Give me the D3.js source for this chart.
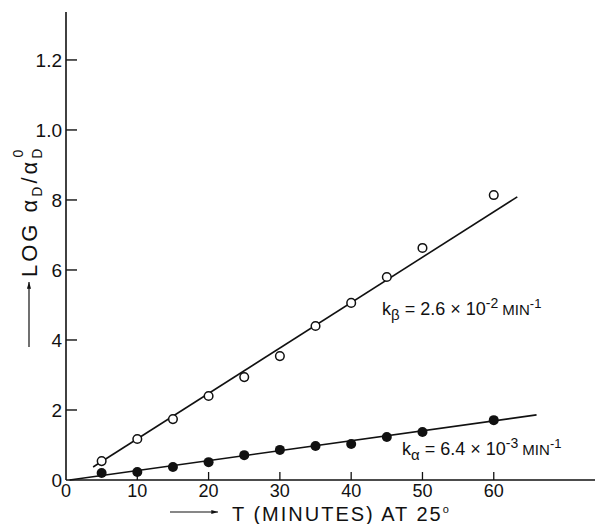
<!DOCTYPE html>
<html>
<head>
<meta charset="utf-8">
<script src="https://cdn.jsdelivr.net/npm/d3@7"></script>
<style>
  body { margin: 0; background: #fff; }
  text { font-family: "Liberation Sans", "DejaVu Sans", sans-serif; fill: #111; }
</style>
</head>
<body>
<div id="chart"></div>
<script>
// minutes at 25 deg
const times = [5, 10, 15, 20, 25, 30, 35, 40, 45, 50, 60]
// open circles (beta)
const betaVals = [0.54, 1.17, 1.74, 2.4, 2.94, 3.54, 4.4, 5.06, 5.8, 6.63, 8.14]
// filled circles (alpha)
const alphaVals = [0.2, 0.23, 0.37, 0.51, 0.71, 0.86, 0.97, 1.03, 1.23, 1.37, 1.71]
// fitted lines, [t, y] end points
const betaFit = [[3.8, 0.37], [63.3, 8.09]]
const alphaFit = [[0.5, 0], [66, 1.86]]
const xTicks = [0, 10, 20, 30, 40, 50, 60]
const yTicks = [0, 2, 4, 6, 8, 10, 12]
const yTickLabels = ['0', '2', '4', '6', '8', '1.0', '1.2']

const W = 595, H = 524
const svg = d3.select('#chart').append('svg').attr('width', W).attr('height', H)

const x = d3.scaleLinear().domain([0, 74.2]).range([66, 595])
const y = d3.scaleLinear().domain([0, 13.37]).range([480, 12])

const ink = '#111'

// axes
svg.append('line').attr('x1', x(0)).attr('x2', x(0)).attr('y1', y(13.37)).attr('y2', y(0))
  .attr('stroke', ink).attr('stroke-width', 1.6)
svg.append('line').attr('x1', x(0)).attr('x2', W).attr('y1', y(0)).attr('y2', y(0))
  .attr('stroke', ink).attr('stroke-width', 1.6)

// y ticks point inward
svg.selectAll('.ytick').data(yTicks.slice(1)).enter().append('line')
  .attr('x1', x(0)).attr('x2', x(0) + 11)
  .attr('y1', d => y(d)).attr('y2', d => y(d))
  .attr('stroke', ink).attr('stroke-width', 1.4)
svg.selectAll('.ylab').data(yTicks).enter().append('text')
  .attr('x', 62).attr('y', d => y(d)).attr('dy', '0.36em')
  .attr('text-anchor', 'end').attr('font-size', 19)
  .text((d, i) => yTickLabels[i])

// x ticks point up
svg.selectAll('.xtick').data(xTicks.slice(1)).enter().append('line')
  .attr('x1', d => x(d)).attr('x2', d => x(d))
  .attr('y1', y(0)).attr('y2', y(0) - 8)
  .attr('stroke', ink).attr('stroke-width', 1.3)
svg.selectAll('.xlab').data(xTicks).enter().append('text')
  .attr('x', d => x(d)).attr('y', 497)
  .attr('text-anchor', 'middle').attr('font-size', 18)
  .text(d => d)

// fit lines
const line = d3.line().x(d => x(d[0])).y(d => y(d[1]))
svg.append('path').datum(betaFit).attr('d', line).attr('stroke', ink).attr('stroke-width', 1.6).attr('fill', 'none')
svg.append('path').datum(alphaFit).attr('d', line).attr('stroke', ink).attr('stroke-width', 1.6).attr('fill', 'none')

// points
svg.selectAll('.beta').data(times).enter().append('circle')
  .attr('cx', d => x(d)).attr('cy', (d, i) => y(betaVals[i])).attr('r', 4.3)
  .attr('fill', '#fff').attr('stroke', ink).attr('stroke-width', 1.5)
svg.selectAll('.alpha').data(times).enter().append('circle')
  .attr('cx', d => x(d)).attr('cy', (d, i) => y(alphaVals[i])).attr('r', 5)
  .attr('fill', ink)

// axis titles
const arrow = (g, x1, y1, x2, y2) => {
  g.append('line').attr('x1', x1).attr('y1', y1).attr('x2', x2).attr('y2', y2)
    .attr('stroke', ink).attr('stroke-width', 1.2)
  const a = Math.atan2(y2 - y1, x2 - x1), s = 7
  g.append('path')
    .attr('d', `M${x2},${y2}L${x2 - s * Math.cos(a - 0.3)},${y2 - s * Math.sin(a - 0.3)}L${x2 - s * Math.cos(a + 0.3)},${y2 - s * Math.sin(a + 0.3)}Z`)
    .attr('fill', ink)
}
arrow(svg, 29, 347, 29, 282)
const yt = svg.append('text').attr('transform', 'translate(37,277) rotate(-90)')
  .attr('font-size', 22).attr('letter-spacing', 3)
yt.append('tspan').text('LOG  α')
yt.append('tspan').attr('dy', 5).attr('font-size', 14).text('D')
yt.append('tspan').attr('dy', -5).text('/α')
yt.append('tspan').attr('dy', 5).attr('font-size', 14).text('D')
yt.append('tspan').attr('dy', -19).attr('dx', -12).attr('font-size', 14).text('0')

arrow(svg, 170, 512, 218, 512)
const xt = svg.append('text').attr('x', 232).attr('y', 521).attr('font-size', 20).attr('letter-spacing', 2)
xt.append('tspan').text('T (MINUTES) AT 25')
xt.append('tspan').attr('dy', -8).attr('font-size', 11).text('o')

// rate constants
const ann = (px, py, sub, mant, exp) => {
  const t = svg.append('text').attr('x', px).attr('y', py).attr('font-size', 18)
  t.append('tspan').text('k')
  t.append('tspan').attr('dy', 5).attr('font-size', 15).text(sub)
  t.append('tspan').attr('dy', -5).text(` = ${mant} × 10`)
  t.append('tspan').attr('dy', -7).attr('font-size', 14).text(exp)
  t.append('tspan').attr('dy', 7).attr('font-size', 15).text(' MIN')
  t.append('tspan').attr('dy', -7).attr('font-size', 13).text('-1')
}
ann(382, 315, 'β', '2.6', '-2')
ann(402, 455, 'α', '6.4', '-3')
</script>
</body>
</html>
